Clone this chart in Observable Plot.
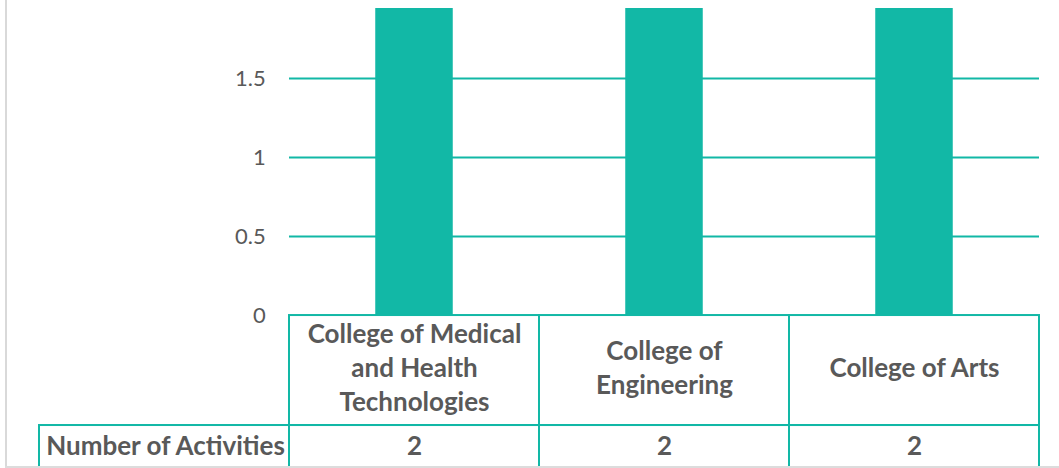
<!DOCTYPE html>
<html>
<head>
<meta charset="utf-8">
<script src="https://cdn.jsdelivr.net/npm/d3@7"></script>
<script src="https://cdn.jsdelivr.net/npm/@observablehq/plot@0.6"></script>
<style>
  html, body { margin: 0; padding: 0; background: #fff; }
  #wrap { position: relative; width: 1059px; height: 468px; overflow: hidden; }
  #wrap svg { display: block; }
  #edgeL { position: absolute; left: 5px; top: 0; width: 2px; height: 468px; background: #d9d9d9; }
  #edgeB { position: absolute; left: 5px; top: 466px; width: 1054px; height: 2px; background: #dcdcdc; }
</style>
</head>
<body>
<div id="wrap"></div>
<script>
// ---- data ----
const categories = ["College of Medical and Health Technologies", "College of Engineering", "College of Arts"];
const categoryLabels = ["College of Medical\nand Health\nTechnologies", "College of\nEngineering", "College of Arts"];
const activities = [2, 2, 2];
const seriesName = "Number of Activities";
const yTicks = [0, 0.5, 1, 1.5];

// ---- layout ----
const W = 1059, H = 468;
const teal = "#12B8A6";
const textColor = "#595959";
const font = "Lato, 'Open Sans', sans-serif";
const HEADER = "";
const yTop = 1.943;       // visible top of the plot (bars are cut)
const rowSplit = -0.696;  // between the label row and the value row
const yBottom = -0.968;   // bottom of the picture
const marginLeft = 38, marginRight = 19;
const step = (W - marginLeft - marginRight) / (categories.length + 1);
const barWidth = 78;
const barInset = (step - barWidth) / 2;

const rows = categories.map((c, i) => ({cat: c, label: categoryLabels[i], value: activities[i]}));
const grid = categories.flatMap(c => yTicks.filter(t => t > 0).map(t => ({cat: c, t})));

const chart = Plot.plot({
  width: W,
  height: H,
  marginLeft, marginRight,
  marginTop: 8,
  marginBottom: 0,
  style: {fontFamily: font, background: "transparent"},
  x: {domain: [HEADER, ...categories], padding: 0, axis: null},
  y: {domain: [yBottom, yTop], axis: null},
  marks: [
    // horizontal gridlines across each category column
    Plot.tickY(grid, {x: "cat", y: "t", stroke: teal, strokeWidth: 2}),
    // bars (clipped at the top of the frame)
    Plot.barY(rows, {x: "cat", y1: 0, y2: "value", fill: teal, insetLeft: barInset, insetRight: barInset, clip: true}),
    // data table: label row
    Plot.barY(rows, {x: "cat", y1: rowSplit, y2: 0, fill: "white", stroke: teal, strokeWidth: 2}),
    // data table: value row (incl. header cell)
    Plot.barY([{cat: HEADER}, ...rows], {x: "cat", y1: yBottom - 0.2, y2: rowSplit, fill: "none", stroke: teal, strokeWidth: 2, clip: true}),
    // y tick labels
    Plot.text(yTicks, {x: () => HEADER, y: d => d, text: d => String(d), textAnchor: "end", dx: step / 2 - 24,
      fill: textColor, fontSize: 22, fontFamily: font}),
    // category labels
    Plot.text(rows, {x: "cat", y: rowSplit / 2, text: "label", fill: textColor, fontSize: 26, fontWeight: "bold",
      lineHeight: 1.31, dy: -4, fontFamily: font}),
    // values
    Plot.text(rows, {x: "cat", y: (rowSplit + yBottom) / 2, text: d => String(d.value), fill: textColor, fontSize: 26,
      fontWeight: "bold", fontFamily: font}),
    // series header
    Plot.text([seriesName], {x: () => HEADER, y: (rowSplit + yBottom) / 2, text: d => d, textAnchor: "start",
      dx: -step / 2 + 7, fill: textColor, fontSize: 26, fontWeight: "bold", fontFamily: font})
  ]
});

const wrap = document.getElementById("wrap");
wrap.appendChild(chart);
const l = document.createElement("div"); l.id = "edgeL"; wrap.appendChild(l);
const b = document.createElement("div"); b.id = "edgeB"; wrap.appendChild(b);
</script>
</body>
</html>
